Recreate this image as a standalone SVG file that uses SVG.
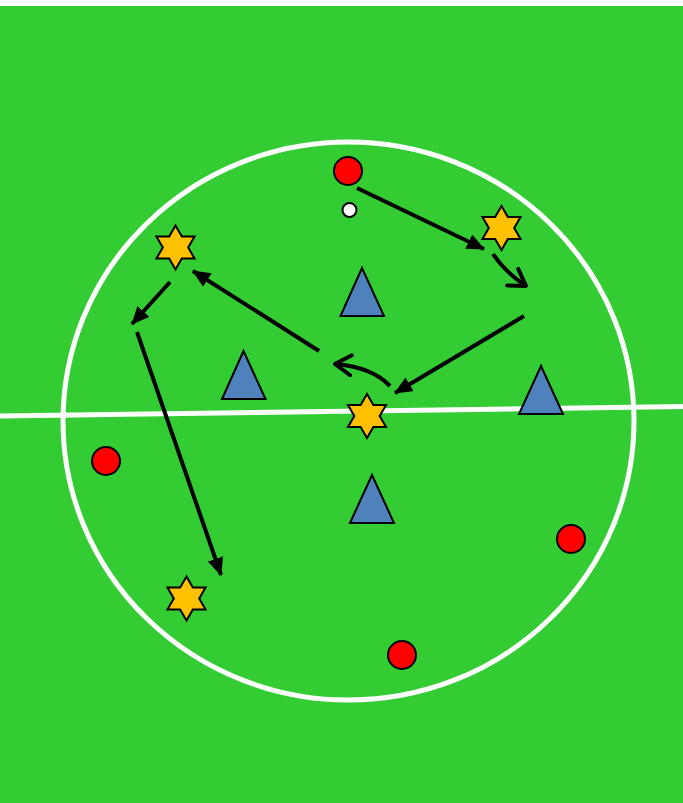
<svg xmlns="http://www.w3.org/2000/svg" width="683" height="803" viewBox="0 0 683 803">
<style>
.field{fill:#33CC33}
.line{fill:none;stroke:#fff;stroke-width:5}
.red{fill:#FF0000;stroke:#000;stroke-width:2}
.ball{fill:#fff;stroke:#000;stroke-width:2}
.star{fill:#FFC000;stroke:#000;stroke-width:2;stroke-linejoin:miter}
.tri{fill:#4F81BD;stroke:#000;stroke-width:2;stroke-linejoin:miter}
.arr{fill:none;stroke:#000;stroke-width:4}
</style>
<defs>
<polygon id="hex" points="0,-22 6.35,-11 19.05,-11 12.7,0 19.05,11 6.35,11 0,22 -6.35,11 -19.05,11 -12.7,0 -19.05,-11 -6.35,-11"/>
<marker id="fill" markerUnits="userSpaceOnUse" viewBox="0 0 18 16" refX="17" refY="8" markerWidth="18" markerHeight="16" orient="auto">
<polygon points="0,0 18,8 0,16" fill="#000"/>
</marker>
<marker id="open" markerUnits="userSpaceOnUse" viewBox="0 0 20 24" refX="18" refY="12" markerWidth="20" markerHeight="24" orient="auto">
<polyline points="2,2 18,12 2,22" fill="none" stroke="#000" stroke-width="4" stroke-linecap="round" stroke-linejoin="round"/>
</marker>
</defs>
<rect class="field" x="0" y="6" width="683" height="797"/>
<g id="pitch">
<ellipse class="line" cx="348.5" cy="421" rx="285.5" ry="279"/>
<line class="line" x1="0" y1="416" x2="683" y2="406.5"/>
</g>
<g id="connectors">
<line class="arr" x1="357" y1="188" x2="484" y2="249" marker-end="url(#fill)"/>
<path class="arr" d="M493,254 Q505,272 526,286" marker-end="url(#open)"/>
<line class="arr" x1="524" y1="316" x2="395" y2="393" marker-end="url(#fill)"/>
<path class="arr" d="M390,386 Q372,367 335,364" marker-end="url(#open)"/>
<line class="arr" x1="319" y1="351" x2="193" y2="271" marker-end="url(#fill)"/>
<line class="arr" x1="170" y1="282" x2="132" y2="324" marker-end="url(#fill)"/>
<line class="arr" x1="137" y1="332" x2="221" y2="575" marker-end="url(#fill)"/>
</g>
<g id="red1"><circle class="red" cx="348" cy="171" r="14"/></g>
<g id="ball"><circle class="ball" cx="349.5" cy="210" r="7"/></g>
<g id="red2"><circle class="red" cx="106" cy="461" r="14"/></g>
<g id="red3"><circle class="red" cx="571" cy="539" r="14"/></g>
<g id="red4"><circle class="red" cx="402" cy="655" r="14"/></g>
<g id="star1"><use href="#hex" class="star" x="175.5" y="247.5"/></g>
<g id="star2"><use href="#hex" class="star" x="501.5" y="228"/></g>
<g id="star3"><use href="#hex" class="star" x="367" y="416"/></g>
<g id="star4"><use href="#hex" class="star" x="186.5" y="598.5"/></g>
<g id="tri1"><polygon class="tri" points="362,268 340.5,316 384,316"/></g>
<g id="tri2"><polygon class="tri" points="243.5,351 222,399 265.5,399"/></g>
<g id="tri3"><polygon class="tri" points="541,366 519,414 563,414"/></g>
<g id="tri4"><polygon class="tri" points="372,475 350,523 394,523"/></g>
</svg>
